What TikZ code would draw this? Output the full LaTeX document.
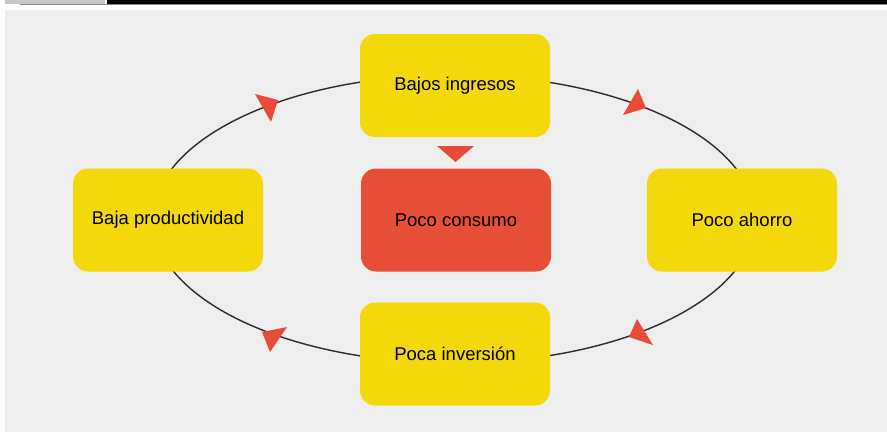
\documentclass[tikz,border=0pt]{standalone}
\usepackage{fontspec}
\setmainfont{Liberation Sans}
\definecolor{bggray}{HTML}{EEEEEE}
\definecolor{boxyellow}{HTML}{F3D80B}
\definecolor{boxred}{HTML}{E64E38}
\definecolor{arrred}{HTML}{E84B37}
\definecolor{linedark}{HTML}{2E2A26}
\tikzset{
  cyclebox/.style={rectangle, rounded corners=15pt, fill=boxyellow, minimum width=190pt, minimum height=103pt, inner sep=0pt, font=\fontsize{18.5}{20}\selectfont, text=black},
  centerbox/.style={cyclebox, fill=boxred},
  arrowtri/.style={fill=arrred, draw=none},
  ringline/.style={draw=linedark, line width=1.4pt}
}
\begin{document}
\begin{tikzpicture}[x=1pt,y=-1pt]
\useasboundingbox (0,0) rectangle (887,432);
\fill[white] (0,0) rectangle (887,432);
% top screenshot strip
\fill[black!22] (5,0) rectangle (105,4);
\fill[black] (107,0) rectangle (887,4);
\fill[black!45] (20,4) rectangle (887,5);
% background
\fill[bggray] (5,10) rectangle (887,432);
% ring
\draw[ringline] (454,219) ellipse [x radius=301pt, y radius=144pt];
% boxes
\node[cyclebox] (bajosingresos) at (455,85.5) {Bajos ingresos};
\node[cyclebox] (bajaprod) at (168,220) {Baja productividad};
\node[centerbox] (pococonsumo) at (456,220) {Poco consumo};
\node[cyclebox] (pocoahorro) at (742,220) {Poco ahorro};
\node[cyclebox] (pocainversion) at (455,354) {Poca inversión};
% arrow triangles on the ring
\fill[arrowtri] (255,94) -- (278,100) -- (271,122) -- cycle;
\fill[arrowtri] (638,89) -- (646,108) -- (623,115) -- cycle;
\fill[arrowtri] (637,319) -- (653,345) -- (629,337) -- cycle;
\fill[arrowtri] (262,332) -- (287,327) -- (270,352) -- cycle;
% small down triangle between top and centre
\fill[arrowtri] (437,146) -- (474,146) -- (455.5,162) -- cycle;
\end{tikzpicture}
\end{document}
